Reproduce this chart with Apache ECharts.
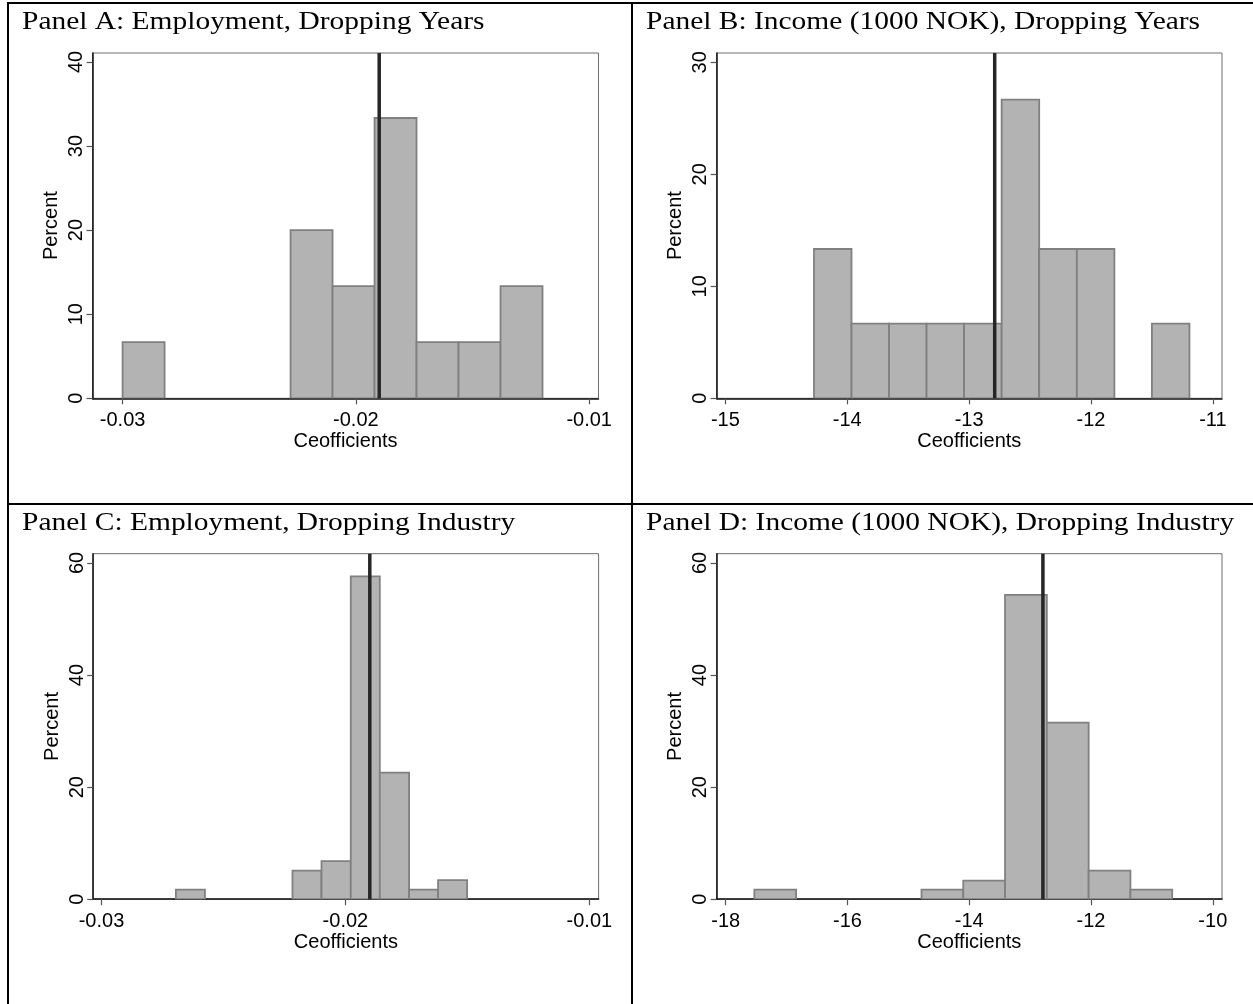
<!DOCTYPE html>
<html>
<head>
<meta charset="utf-8">
<script src="https://cdn.jsdelivr.net/npm/echarts@6/dist/echarts.min.js"></script>
<style>
  html, body { margin: 0; padding: 0; background: #fff; }
  #chart { width: 1253px; height: 1004px; }
</style>
</head>
<body>
<div id="chart"></div>
<script>
// Panel titles
const panelTitles = [
  'Panel A: Employment, Dropping Years',
  'Panel B: Income (1000 NOK), Dropping Years',
  'Panel C: Employment, Dropping Industry',
  'Panel D: Income (1000 NOK), Dropping Industry'
];

// Histogram bin edges (11 edges -> 10 bins) and bin percentages per panel
const edgesA = [-0.0300, -0.0282, -0.0264, -0.0246, -0.0228, -0.0210, -0.0192, -0.0174, -0.0156, -0.0138, -0.0120];
const pctA   = [6.67, 0, 0, 0, 20.0, 13.33, 33.33, 6.67, 6.67, 13.33];

const edgesB = [-14.273, -13.965, -13.657, -13.349, -13.041, -12.733, -12.425, -12.116, -11.808, -11.500, -11.192];
const pctB   = [13.33, 6.67, 6.67, 6.67, 6.67, 26.67, 13.33, 13.33, 0, 6.67];

const edgesC = [-0.02695, -0.02576, -0.02456, -0.02337, -0.02217, -0.02098, -0.01978, -0.01859, -0.01739, -0.01620, -0.01501];
const pctC   = [1.7, 0, 0, 0, 5.1, 6.8, 57.6, 22.6, 1.7, 3.4];

const edgesD = [-17.529, -16.843, -16.157, -15.470, -14.784, -14.098, -13.412, -12.726, -12.039, -11.353, -10.667];
const pctD   = [1.7, 0, 0, 0, 1.7, 3.3, 54.3, 31.5, 5.1, 1.7];

// Baseline (full-sample) coefficient drawn as a vertical reference line
const baseline = [-0.0190, -12.79, -0.0190, -12.79];

// Axis extents and tick labels
const xRange = [[-0.03129, -0.00960], [-15.072, -10.925], [-0.03034, -0.00962], [-18.149, -9.849]];
const xTicks = [[-0.03, -0.02, -0.01], [-15, -14, -13, -12, -11], [-0.03, -0.02, -0.01], [-18, -16, -14, -12, -10]];
const yMax   = [41.06, 30.83, 61.66, 61.66];
const yTicks = [[0, 10, 20, 30, 40], [0, 10, 20, 30], [0, 20, 40, 60], [0, 20, 40, 60]];

const xName = 'Ceofficients';
const yName = 'Percent';

const edges = [edgesA, edgesB, edgesC, edgesD];
const pcts = [pctA, pctB, pctC, pctD];

const SANS = '"Liberation Sans", Arial, Helvetica, sans-serif';
const SERIF = '"Liberation Serif", "Times New Roman", serif';
const AXIS_FONT = 20;

const grids = [
  { left: 92.5, top: 53, width: 506, height: 345.3 },
  { left: 716.6, top: 53, width: 505.4, height: 345.3 },
  { left: 93.2, top: 553.7, width: 505.4, height: 345.5 },
  { left: 716.6, top: 553.7, width: 505.4, height: 345.5 }
].map(g => Object.assign(g, { show: true, borderColor: '#6e6e6e', borderWidth: 1, backgroundColor: '#fff' }));

const xAxes = [], yAxes = [], series = [];
for (let i = 0; i < 4; i++) {
  xAxes.push({
    gridIndex: i, type: 'value', min: xRange[i][0], max: xRange[i][1],
    axisLine: { show: true, onZero: false, lineStyle: { color: '#111', width: 1.5 } },
    axisTick: { show: true, length: 6, customValues: xTicks[i], lineStyle: { color: '#555', width: 1.2 } },
    axisLabel: { customValues: xTicks[i], fontFamily: SANS, fontSize: AXIS_FONT, color: '#000', margin: 12 },
    splitLine: { show: false },
    name: xName, nameLocation: 'middle', nameGap: 32,
    nameTextStyle: { fontFamily: SANS, fontSize: AXIS_FONT, color: '#000' }
  });
  yAxes.push({
    gridIndex: i, type: 'value', min: 0, max: yMax[i],
    axisLine: { show: true, onZero: false, lineStyle: { color: '#111', width: 1.5 } },
    axisTick: { show: true, length: 6, customValues: yTicks[i], lineStyle: { color: '#555', width: 1.2 } },
    axisLabel: { customValues: yTicks[i], rotate: 90, fontFamily: SANS, fontSize: AXIS_FONT, color: '#000', margin: 6 },
    splitLine: { show: false },
    name: yName, nameLocation: 'middle', nameRotate: 90, nameGap: 31,
    nameTextStyle: { fontFamily: SANS, fontSize: AXIS_FONT, color: '#000' }
  });

  const data = [];
  for (let k = 0; k < pcts[i].length; k++) {
    data.push([edges[i][k], edges[i][k + 1], pcts[i][k]]);
  }
  series.push({
    type: 'custom', xAxisIndex: i, yAxisIndex: i, clip: true,
    encode: { x: [0, 1], y: 2 },
    renderItem: function (params, api) {
      const h = api.value(2);
      if (!h) return null;
      const p0 = api.coord([api.value(0), 0]);
      const p1 = api.coord([api.value(1), h]);
      return {
        type: 'rect',
        shape: { x: p0[0], y: p1[1], width: p1[0] - p0[0], height: p0[1] - p1[1] },
        style: { fill: '#b3b3b3', stroke: '#808080', lineWidth: 1.8 }
      };
    },
    data: data,
    silent: true
  });
  series.push({
    type: 'line', xAxisIndex: i, yAxisIndex: i, showSymbol: false, silent: true,
    lineStyle: { color: '#262626', width: 3.5 },
    data: [[baseline[i], 0], [baseline[i], yMax[i]]],
    z: 5
  });
}

// Table rules and panel headings
const graphic = [
  { type: 'rect', shape: { x: 7, y: 2, width: 1246, height: 2 }, style: { fill: '#000' } },
  { type: 'rect', shape: { x: 7, y: 2, width: 2, height: 1002 }, style: { fill: '#000' } },
  { type: 'rect', shape: { x: 631, y: 2, width: 2, height: 1002 }, style: { fill: '#000' } },
  { type: 'rect', shape: { x: 7, y: 503, width: 1246, height: 2 }, style: { fill: '#000' } }
];
const titlePos = [[22, 22], [646, 22], [22, 523], [646, 523]];
for (let i = 0; i < 4; i++) {
  graphic.push({
    type: 'text', x: titlePos[i][0], y: titlePos[i][1], scaleX: 1.155, scaleY: 1,
    style: { text: panelTitles[i], font: '25.5px ' + SERIF, fill: '#000', textVerticalAlign: 'middle' }
  });
}

const chart = echarts.init(document.getElementById('chart'), null, { renderer: 'canvas' });
chart.setOption({
  animation: false,
  backgroundColor: '#fff',
  grid: grids,
  xAxis: xAxes,
  yAxis: yAxes,
  series: series,
  graphic: graphic
});
</script>
</body>
</html>
